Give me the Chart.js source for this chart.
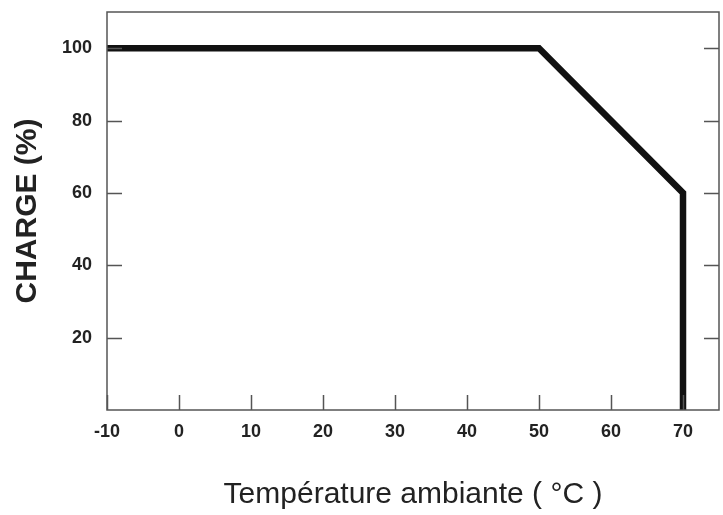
<!DOCTYPE html>
<html>
<head>
<meta charset="utf-8">
<script src="https://cdn.jsdelivr.net/npm/chart.js@4"></script>
<style>
    html, body { margin: 0; padding: 0; background: #fff; }
    #wrap { width: 723px; height: 515px; }
</style>
</head>
<body>
<div id="wrap"><canvas id="deratingChart"></canvas></div>
<script>
// derating curve
const tempPoints = [-10, 50, 70, 70];
const chargePoints = [100, 100, 60, 0];
const xTickValues = [-10, 0, 10, 20, 30, 40, 50, 60, 70];
const yTickValues = [20, 40, 60, 80, 100];

const AXIS_COLOR = '#555';
const TEXT_COLOR = '#222';

// box round the plot and short tick marks pointing inward
const frameAndTicks = {
    id: 'frameAndTicks',
    afterDatasetsDraw(chart) {
        const { ctx, chartArea: a, scales } = chart;
        const len = 15;
        ctx.save();
        ctx.strokeStyle = AXIS_COLOR;
        ctx.lineWidth = 1.5;
        ctx.strokeRect(a.left, a.top, a.right - a.left, a.bottom - a.top);
        ctx.beginPath();
        scales.y.ticks.forEach(t => {
            const py = Math.round(scales.y.getPixelForValue(t.value)) + 0.5;
            ctx.moveTo(a.left, py);
            ctx.lineTo(a.left + len, py);
            ctx.moveTo(a.right, py);
            ctx.lineTo(a.right - len, py);
        });
        scales.x.ticks.forEach(t => {
            const px = Math.round(scales.x.getPixelForValue(t.value)) + 0.5;
            ctx.moveTo(px, a.bottom);
            ctx.lineTo(px, a.bottom - len);
        });
        ctx.stroke();
        ctx.restore();
    }
};

document.addEventListener('DOMContentLoaded', () => {
    const canvas = document.getElementById('deratingChart');
    if (canvas) {
        createDeratingChart(canvas);
    }
});

function createDeratingChart(canvasElement) {
    const ctx = canvasElement.getContext('2d');
    new Chart(ctx, {
        type: 'line',
        data: {
            datasets: [{
                data: tempPoints.map((t, i) => ({ x: t, y: chargePoints[i] })),
                borderColor: '#111',
                borderWidth: 6.5,
                borderJoinStyle: 'miter',
                pointRadius: 0,
                tension: 0,
                clip: 4
            }]
        },
        options: {
            responsive: true,
            maintainAspectRatio: false,
            animation: false,
            layout: { padding: { top: 12, right: 4, left: 0, bottom: 0 } },
            plugins: {
                legend: { display: false },
                tooltip: { enabled: false }
            },
            scales: {
                x: {
                    type: 'linear',
                    min: -10,
                    max: 75,
                    afterBuildTicks: scale => {
                        scale.ticks = xTickValues.map(v => ({ value: v }));
                    },
                    afterFit: scale => {
                        scale.height = 105;
                        scale.paddingLeft = 0;
                        scale.paddingRight = 0;
                    },
                    grid: { display: false, drawTicks: false },
                    border: { display: false },
                    ticks: {
                        color: TEXT_COLOR,
                        padding: 11,
                        maxRotation: 0,
                        font: { family: 'Liberation Sans', size: 18, weight: 'bold' }
                    },
                    title: {
                        display: true,
                        text: 'Température ambiante ( °C )',
                        color: TEXT_COLOR,
                        padding: { top: 0, bottom: 2 },
                        font: { family: 'Liberation Sans', size: 30 }
                    }
                },
                y: {
                    min: 0,
                    max: 110,
                    afterBuildTicks: scale => {
                        scale.ticks = yTickValues.map(v => ({ value: v }));
                    },
                    afterFit: scale => {
                        scale.width = 107;
                        scale.paddingTop = 0;
                        scale.paddingBottom = 0;
                    },
                    grid: { display: false, drawTicks: false },
                    border: { display: false },
                    ticks: {
                        color: TEXT_COLOR,
                        padding: 15,
                        font: { family: 'Liberation Sans', size: 18, weight: 'bold' }
                    },
                    title: {
                        display: true,
                        text: 'CHARGE (%)',
                        color: TEXT_COLOR,
                        padding: { top: 10, bottom: 0 },
                        font: { family: 'Liberation Sans', size: 30, weight: 'bold' }
                    }
                }
            }
        },
        plugins: [frameAndTicks]
    });
}
</script>
</body>
</html>
